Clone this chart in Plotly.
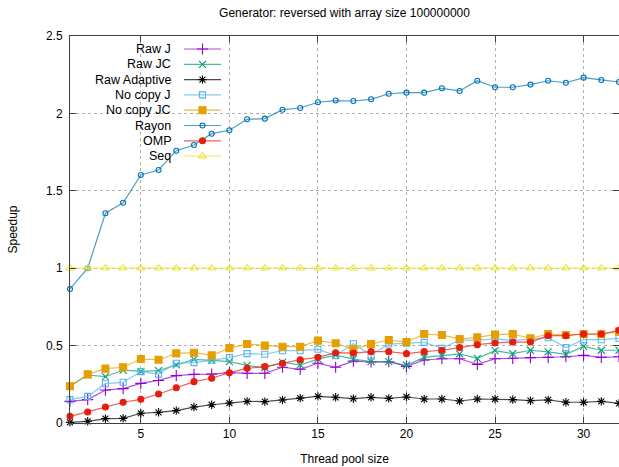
import plotly.graph_objects as go

threads = list(range(1, 33))

raw_j = [0.140, 0.151, 0.213, 0.222, 0.256, 0.275, 0.306, 0.314, 0.316, 0.325, 0.321, 0.321, 0.360, 0.347, 0.386, 0.360,
         0.400, 0.394, 0.396, 0.366, 0.407, 0.415, 0.415, 0.379, 0.415, 0.418, 0.422, 0.424, 0.428, 0.437, 0.424, 0.428]
raw_jc = [0.237, 0.310, 0.299, 0.342, 0.334, 0.338, 0.375, 0.411, 0.405, 0.396, 0.372, 0.357, 0.392, 0.375, 0.413, 0.439,
          0.413, 0.396, 0.396, 0.373, 0.424, 0.435, 0.446, 0.418, 0.467, 0.448, 0.470, 0.459, 0.444, 0.495, 0.470, 0.470]
raw_adaptive = [0.004, 0.011, 0.028, 0.030, 0.063, 0.069, 0.080, 0.103, 0.118, 0.129, 0.140, 0.138, 0.149, 0.161, 0.172, 0.166,
                0.157, 0.166, 0.159, 0.168, 0.155, 0.155, 0.142, 0.155, 0.155, 0.151, 0.144, 0.149, 0.134, 0.134, 0.140, 0.127]
no_copy_j = [0.151, 0.172, 0.254, 0.263, 0.332, 0.316, 0.386, 0.390, 0.405, 0.422, 0.448, 0.444, 0.467, 0.467, 0.476, 0.435,
             0.512, 0.439, 0.510, 0.515, 0.521, 0.482, 0.536, 0.536, 0.543, 0.532, 0.541, 0.551, 0.487, 0.538, 0.538, 0.547]
no_copy_jc = [0.237, 0.314, 0.351, 0.360, 0.413, 0.409, 0.450, 0.454, 0.437, 0.484, 0.510, 0.500, 0.493, 0.493, 0.532, 0.515,
              0.476, 0.510, 0.536, 0.523, 0.575, 0.568, 0.543, 0.553, 0.571, 0.575, 0.547, 0.575, 0.568, 0.575, 0.573, 0.590]
rayon = [0.866, 1.000, 1.355, 1.423, 1.602, 1.634, 1.759, 1.796, 1.869, 1.891, 1.962, 1.966, 2.024, 2.035, 2.072, 2.083,
         2.080, 2.091, 2.127, 2.134, 2.134, 2.162, 2.145, 2.211, 2.169, 2.169, 2.186, 2.211, 2.198, 2.231, 2.216, 2.203]
omp = [0.043, 0.071, 0.103, 0.134, 0.153, 0.187, 0.228, 0.267, 0.289, 0.325, 0.353, 0.364, 0.386, 0.409, 0.424, 0.454,
       0.452, 0.461, 0.461, 0.448, 0.461, 0.470, 0.487, 0.506, 0.517, 0.523, 0.523, 0.564, 0.564, 0.575, 0.575, 0.599]
seq = [1.0, 1.0, 1.0, 1.0, 1.0, 1.0, 1.0, 1.0, 1.0, 1.0, 1.0, 1.0, 1.0, 1.0, 1.0, 1.0,
       1.0, 1.0, 1.0, 1.0, 1.0, 1.0, 1.0, 1.0, 1.0, 1.0, 1.0, 1.0, 1.0, 1.0, 1.0, 1.0]

series_names = ["Raw J", "Raw JC", "Raw Adaptive", "No copy J", "No copy JC", "Rayon", "OMP", "Seq"]
series_values = [raw_j, raw_jc, raw_adaptive, no_copy_j, no_copy_jc, rayon, omp, seq]

x_ticks = [5, 10, 15, 20, 25, 30]
y_ticks = [0, 0.5, 1, 1.5, 2, 2.5]
y_tick_labels = ["0", "0.5", "1", "1.5", "2", "2.5"]

title_text = "Generator: reversed with array size 100000000"
x_title = "Thread pool size"
y_title = "Speedup"

# styles
colors = ["#9400d3", "#009e73", "#000000", "#56b4e9", "#e69f00", "#0072b2", "#e51e10", "#f0e442"]
symbols = ["cross-thin-open", "x-thin-open", "asterisk-open", "square-open", "square", "circle-open", "circle", "triangle-up-open"]
sizes = [8, 7, 7, 6, 7, 5, 6, 7]

def rgba(hexc, a):
    h = hexc.lstrip("#")
    r, g, b = int(h[0:2], 16), int(h[2:4], 16), int(h[4:6], 16)
    return f"rgba({r},{g},{b},{a})"

W, H = 619, 467
ML, MR, MT, MB = 70, 0, 36, 44
FONT = "Liberation Sans, Arial, sans-serif"

fig = go.Figure()

for name, vals, c, s, sz in zip(series_names, series_values, colors, symbols, sizes):
    fig.add_trace(go.Scatter(
        x=threads, y=vals, name=name, mode="lines+markers",
        line=dict(color=rgba(c, 0.7), width=1.2),
        marker=dict(symbol=s, size=sz, color=c, line=dict(color=c, width=1.1)),
        showlegend=False, cliponaxis=False,
    ))

# manual gnuplot-style legend (text right-aligned, sample on the right)
pw = W - ML - MR
ph = H - MT - MB
def px_to_paper_x(px):
    return (px - ML) / pw
def py_to_paper_y(py):
    return (H - MB - py) / ph

legend_rows = [49, 64.3, 79.6, 94.9, 110.2, 125.5, 140.8, 156.1]
text_right = 173
line_x0, line_x1 = 184, 221
for i, (name, c, s, sz) in enumerate(zip(series_names, colors, symbols, sizes)):
    yy = py_to_paper_y(legend_rows[i])
    fig.add_annotation(xref="paper", yref="paper", x=px_to_paper_x(text_right), y=yy,
                       text=name, showarrow=False, xanchor="right", yanchor="middle",
                       font=dict(family=FONT, size=12.5, color="#000000"))
    fig.add_trace(go.Scatter(
        x=[px_to_paper_x(line_x0), px_to_paper_x((line_x0 + line_x1) / 2), px_to_paper_x(line_x1)],
        y=[yy, yy, yy], mode="lines+markers", xaxis="x2", yaxis="y2",
        line=dict(color=rgba(c, 0.7), width=1.2),
        marker=dict(symbol=s, size=sz, color=c, line=dict(color=c, width=1.1), opacity=[0, 1, 0]),
        showlegend=False, hoverinfo="skip",
    ))

# opaque legend box background (hides grid, under data)
fig.add_shape(type="rect", xref="paper", yref="paper",
              x0=px_to_paper_x(76), x1=px_to_paper_x(228),
              y0=py_to_paper_y(164), y1=py_to_paper_y(37),
              fillcolor="white", line=dict(width=0), layer="between")

axis_common = dict(
    showline=True, linecolor="#404040", linewidth=1, mirror="ticks",
    ticks="inside", ticklen=6, tickcolor="#404040", tickwidth=1,
    showgrid=True, gridcolor="#b0b0b0", griddash="dot", gridwidth=1,
    zeroline=False, tickfont=dict(family=FONT, size=12, color="#000000"),
)

fig.update_layout(
    width=W, height=H,
    margin=dict(l=ML, r=MR, t=MT, b=MB),
    paper_bgcolor="white", plot_bgcolor="white",
    font=dict(family=FONT, size=12, color="#000000"),
    title=dict(text=title_text, x=(ML + (W - MR)) / 2 / W, xanchor="center",
               y=1 - 13 / H, yanchor="middle", yref="container",
               font=dict(family=FONT, size=12, color="#000000")),
    xaxis=dict(range=[1, 32], tickvals=x_ticks, ticktext=[str(v) for v in x_ticks],
               title=dict(text=x_title, standoff=14, font=dict(family=FONT, size=12)),
               **axis_common),
    yaxis=dict(range=[0, 2.5], tickvals=y_ticks, ticktext=y_tick_labels,
               title=dict(text=y_title, standoff=25, font=dict(family=FONT, size=12)),
               ticklabelstandoff=4,
               **axis_common),
    xaxis2=dict(range=[0, 1], overlaying="x", visible=False, anchor="y2"),
    yaxis2=dict(range=[0, 1], overlaying="y", visible=False, anchor="x2"),
    showlegend=False,
)

fig.write_html("out.html")
